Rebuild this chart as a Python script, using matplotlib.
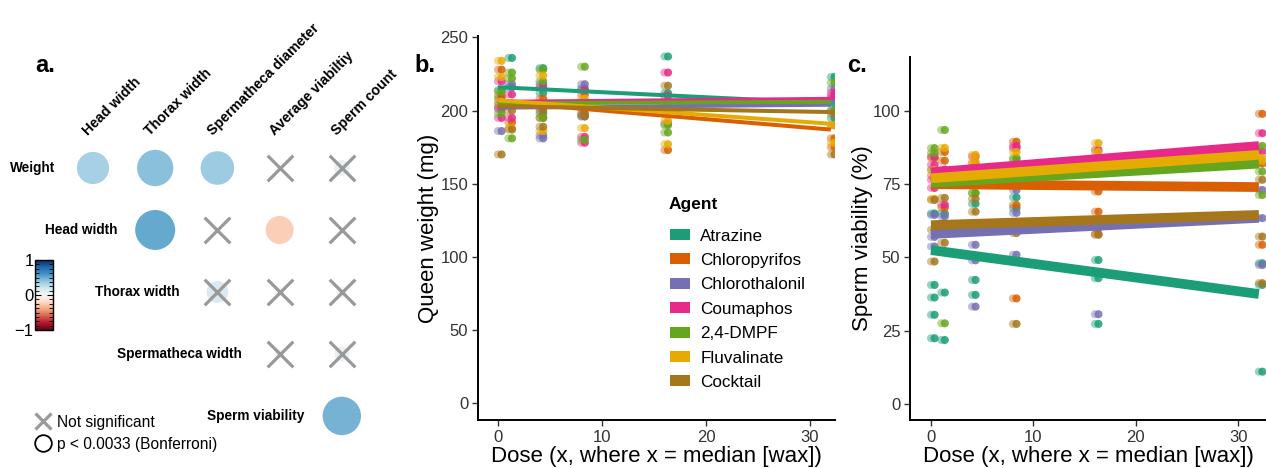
import numpy as np
import matplotlib
matplotlib.use("Agg")
import matplotlib.pyplot as plt
from matplotlib.colors import Normalize
from matplotlib.cm import ScalarMappable
from matplotlib.lines import Line2D
from matplotlib.patches import Patch
from matplotlib.ticker import MultipleLocator

plt.rcParams["font.family"] = ["Liberation Sans", "DejaVu Sans"]

# ---------------------------------------------------------------------------
# Panel a: correlation matrix (upper triangle, row i uses columns i..4)
# ---------------------------------------------------------------------------
ROW_LABELS = ["Weight", "Head width", "Thorax width", "Spermatheca width", "Sperm viability"]
COL_LABELS = ["Head width", "Thorax width", "Spermatheca diameter", "Average viabiltiy", "Sperm count"]

corr_weight = [0.33, 0.42, 0.36, 0.01, 0.08]
corr_head   = [0.51, 0.01, -0.25, 0.01]
corr_thorax = [0.15, -0.03, -0.04]
corr_sperm  = [-0.03, 0.07]
corr_viab   = [0.47]

sig_weight = [True, True, True, False, False]
sig_head   = [True, False, True, False]
sig_thorax = [False, False, False]
sig_sperm  = [False, False]
sig_viab   = [True]

CORR = [corr_weight, corr_head, corr_thorax, corr_sperm, corr_viab]
SIG = [sig_weight, sig_head, sig_thorax, sig_sperm, sig_viab]

# ---------------------------------------------------------------------------
# Panels b, c: values per agent, one list per dose
# ---------------------------------------------------------------------------
AGENTS = ["Atrazine", "Chloropyrifos", "Chlorothalonil", "Coumaphos",
          "2,4-DMPF", "Fluvalinate", "Cocktail"]
COLORS = ["#1B9E77", "#D95F02", "#7570B3", "#E7298A", "#66A61E", "#E6AB02", "#A6761D"]
DOSES = [0, 1, 4, 8, 16, 32]

# queen weight (mg)
weight_atrazine = [[208, 214], [236, 216, 205], [229, 212, 198], [215, 197], [237, 212, 200], [223, 205, 195]]
weight_chlorpyr = [[228, 210], [204, 192], [208, 195], [211, 198], [205, 173], [181, 175, 190]]
weight_chloroth = [[201, 186], [218, 204], [218, 181, 183], [218, 196], [205, 191], [215, 208, 200]]
weight_coumaph  = [[220, 195, 202], [211, 195], [216, 202], [214, 182, 178], [226, 210], [212, 210]]
weight_dmpf     = [[213, 198], [226, 222, 181], [220, 228, 195], [230, 206, 180], [190, 185], [219, 200]]
weight_fluval   = [[234, 223, 206], [188, 205], [224, 186], [188, 208], [193, 177], [190, 178]]
weight_cocktail = [[170, 204], [187, 200], [189, 200], [201, 196], [217, 202], [170, 198]]

# regression lines, value at dose 0 and at dose 32
weight_fit_start = [216, 206, 202, 206, 205, 207, 203]
weight_fit_end   = [205, 187, 204, 208, 206, 191, 199]

# sperm viability (%)
viab_atrazine = [[80, 65, 40.6, 36.3, 30.4, 22.4], [65, 38, 21.8], [68.3, 42.3, 37.2], [70.5, 66.8], [49.1, 42.9, 27.3], [48, 40.6, 11]]
viab_chlorpyr = [[84, 78], [86, 83, 67], [82], [89.5, 67.9, 36], [72.5, 65.6, 58], [99, 82, 54.3]]
viab_chloroth = [[64.5, 57, 53.7], [64, 60], [54.3, 49, 33.2], [73, 65.2, 50.9], [60, 30.6], [73, 63.4, 47.4]]
viab_coumaph  = [[84.4, 81.6, 76.5, 73.7], [68, 80], [84.4], [87.3, 88], [86.7, 84], [92.4, 86.1]]
viab_dmpf     = [[87.3, 85.6], [93.5, 27.5], [71.9, 72], [83.3, 84], [80], [88, 79.3, 71.3]]
viab_fluval   = [[79.9, 70], [87.4, 76.5], [85, 82.7], [86], [89, 86], [84, 83]]
viab_cocktail = [[69.6, 59.4, 48.6], [70.3, 55], [70, 65.6], [58.3, 27.3], [57.7, 62], [76.5, 57.1, 41.2]]

viab_fit_start = [52.5, 75, 58, 79, 75.5, 77, 61]
viab_fit_end   = [37.5, 74, 63.5, 88, 82, 85, 64.5]

WEIGHT = [weight_atrazine, weight_chlorpyr, weight_chloroth, weight_coumaph,
          weight_dmpf, weight_fluval, weight_cocktail]
VIAB = [viab_atrazine, viab_chlorpyr, viab_chloroth, viab_coumaph,
        viab_dmpf, viab_fluval, viab_cocktail]

# ---------------------------------------------------------------------------
W, H = 1266, 468
fig = plt.figure(figsize=(W / 100, H / 100), dpi=100)


def fig_box(left, top, right, bottom):
    return [left / W, 1 - bottom / H, (right - left) / W, (bottom - top) / H]


TXT = "#333333"

# ---------------------------------------------------------------------------
# Panel a
# ---------------------------------------------------------------------------
ax_a = fig.add_axes(fig_box(0, 0, 418, 468))
ax_a.set_xlim(-1.495, 5.225)
ax_a.set_ylim(4.84, -2.71)
ax_a.axis("off")

for i, (row_r, row_sig) in enumerate(zip(CORR, SIG)):
    cols = np.arange(i, 5)
    r = np.array(row_r)
    sig = np.array(row_sig)
    ax_a.scatter(cols, np.full(len(cols), i), s=1626 * np.abs(r), c=r,
                 cmap="RdBu", vmin=-1, vmax=1, edgecolors="none", zorder=2)
    ax_a.scatter(cols[~sig], np.full((~sig).sum(), i), marker="x", s=340,
                 c="#999999", linewidths=2.3, zorder=3)
    ax_a.text(i - 0.6, i, ROW_LABELS[i], ha="right", va="center",
              fontsize=9.8, fontweight="bold")

for j, lab in enumerate(COL_LABELS):
    ax_a.text(j - 0.08, -0.51, lab, rotation=45, rotation_mode="anchor",
              ha="left", va="baseline", fontsize=10.2, fontweight="bold")

leg_a = ax_a.legend(
    handles=[Line2D([], [], marker="x", color="#999999", ls="none", markersize=11, mew=2.3),
             Line2D([], [], marker="o", mfc="none", mec="black", ls="none", markersize=12, mew=1.3)],
    labels=["Not significant", "p < 0.0033 (Bonferroni)"],
    loc="upper left", bbox_to_anchor=(26 / W, 1 - 407 / H), bbox_transform=fig.transFigure,
    frameon=False, fontsize=11.2, handletextpad=0.3, labelspacing=0.45, borderpad=0,
    handlelength=1.2)

cax = fig.add_axes(fig_box(35, 260, 53, 330))
cb = fig.colorbar(ScalarMappable(norm=Normalize(-1, 1), cmap="RdBu"), cax=cax)
cb.set_ticks([-1, 0, 1])
cb.set_ticklabels(["\u22121", "0", "1"])
cb.outline.set_linewidth(1.0)
cax.yaxis.set_ticks_position("left")
cax.yaxis.set_minor_locator(MultipleLocator(0.125))
cax.tick_params(which="both", left=True, right=True, direction="in", color="black")
cax.tick_params(which="major", length=4, width=0.8, labelsize=12, pad=1)
cax.tick_params(which="minor", length=3, width=0.6)

# ---------------------------------------------------------------------------
# Panels b and c
# ---------------------------------------------------------------------------
def style_axes(ax):
    for side in ("top", "right"):
        ax.spines[side].set_visible(False)
    for side in ("left", "bottom"):
        ax.spines[side].set_linewidth(1.4)
    ax.tick_params(direction="out", length=4, width=1.0, color=TXT,
                   labelcolor=TXT, labelsize=12, pad=3)


def draw_panel(ax, data, fit_start, fit_end, lw):
    for k, agent_vals in enumerate(data):
        for d, vals in zip(DOSES, agent_vals):
            ax.scatter(np.full(len(vals), d), vals, s=34, color=COLORS[k],
                       alpha=0.45, edgecolors="none", zorder=2)
            ax.scatter(np.full(len(vals), d + 0.35), vals, s=34, color=COLORS[k],
                       alpha=0.85, edgecolors="none", zorder=2)
    for k in range(len(AGENTS)):
        ax.plot([DOSES[0], DOSES[-1]], [fit_start[k], fit_end[k]], color=COLORS[k],
                lw=lw, solid_capstyle="butt", zorder=3)


ax_b = fig.add_axes(fig_box(478, 36, 835, 420))
draw_panel(ax_b, WEIGHT, weight_fit_start, weight_fit_end, 2.9)
ax_b.set_xlim(-1.92, 32.4)
ax_b.set_ylim(-11.6, 251)
ax_b.set_xticks([0, 10, 20, 30])
ax_b.set_yticks([0, 50, 100, 150, 200, 250])
style_axes(ax_b)
ax_b.set_ylabel("Queen weight (mg)", fontsize=16, labelpad=1)
ax_b.set_xlabel("Dose (x, where x = median [wax])", fontsize=16, labelpad=1)

# legend title drawn on its own to get the wider gap above the entries
fig.text(669 / W, 1 - 205 / H, "Agent", fontsize=12.5, fontweight="bold",
         ha="left", va="center")
ax_b.legend(handles=[Patch(facecolor=c, edgecolor="none") for c in COLORS], labels=AGENTS,
            loc="upper left", bbox_to_anchor=(661 / W, 1 - 220 / H),
            bbox_transform=fig.transFigure, frameon=False, fontsize=12.3,
            handlelength=1.2, handleheight=0.6, handletextpad=0.6,
            labelspacing=0.55, borderpad=0)

ax_c = fig.add_axes(fig_box(910, 57, 1266, 420))
draw_panel(ax_c, VIAB, viab_fit_start, viab_fit_end, 7)
ax_c.set_xlim(-2.05, 32.7)
ax_c.set_ylim(-5.5, 118.4)
ax_c.set_xticks([0, 10, 20, 30])
ax_c.set_yticks([0, 25, 50, 75, 100])
style_axes(ax_c)
ax_c.set_ylabel("Sperm viability (%)", fontsize=16, labelpad=0)
ax_c.set_xlabel("Dose (x, where x = median [wax])", fontsize=16, labelpad=1)

# panel letters
for x_px, letter in [(35, "a."), (414, "b."), (847, "c.")]:
    fig.text(x_px / W, 1 - 72 / H, letter, fontsize=17, fontweight="bold",
             ha="left", va="baseline")

fig.savefig("out.png", dpi=100)
